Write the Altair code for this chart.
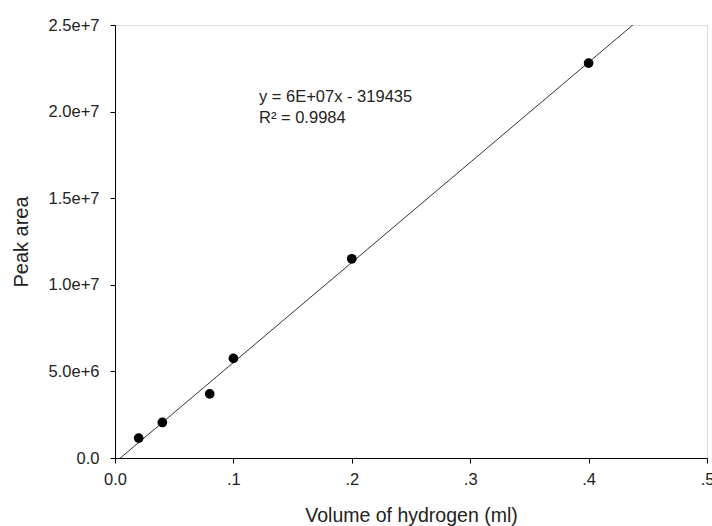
import altair as alt
import pandas as pd

# Calibration standards: injected hydrogen volume vs. integrated peak area
volume_ml = [0.02, 0.04, 0.08, 0.10, 0.20, 0.40]
peak_area = [1.15e6, 2.05e6, 3.7e6, 5.75e6, 11.5e6, 22.8e6]

x_ticks = [0.0, 0.1, 0.2, 0.3, 0.4, 0.5]
y_ticks = [0, 5e6, 1e7, 1.5e7, 2e7, 2.5e7]

fit_lines = ["y = 6E+07x - 319435", "R² = 0.9984"]
fit_label_x = [0.1216, 0.1216]
fit_label_y = [20.84e6, 19.63e6]

df = pd.DataFrame({"volume": volume_ml, "area": peak_area})
labels = pd.DataFrame({"text": fit_lines, "x": fit_label_x, "y": fit_label_y})

FONT = "Liberation Sans"
INK = "#222"

x_scale = alt.Scale(domain=[0, 0.5], nice=False, zero=False)
y_scale = alt.Scale(domain=[0, 2.5e7], nice=False)

x_axis = alt.Axis(
    values=x_ticks,
    labelExpr="datum.value == 0 ? '0.0' : replace(format(datum.value, '.1f'), '0.', '.')",
    title="Volume of hydrogen (ml)",
    grid=False, domainColor="black", tickColor="black", tickSize=5,
    labelFlush=False, labelOverlap=False,
    labelPadding=8, labelFontSize=16.5, labelColor=INK, labelFont=FONT,
    titleFont=FONT, titleFontSize=19.5, titleFontWeight="normal", titleColor=INK,
    titlePadding=19,
)
y_axis = alt.Axis(
    values=y_ticks,
    labelExpr="datum.value == 0 ? '0.0' : format(datum.value, '.1e')",
    title="Peak area",
    grid=False, domainColor="black", tickColor="black", tickSize=5,
    labelFlush=False, labelOverlap=False,
    labelPadding=11, labelFontSize=16.5, labelColor=INK, labelFont=FONT,
    titleFont=FONT, titleFontSize=20, titleFontWeight="normal", titleColor=INK,
    titlePadding=17,
)

base = alt.Chart(df)

points = base.mark_circle(size=95, color="black", opacity=1).encode(
    x=alt.X("volume:Q", scale=x_scale, axis=x_axis),
    y=alt.Y("area:Q", scale=y_scale, axis=y_axis),
)

fit = base.transform_regression(
    "volume", "area", method="linear", extent=[0, 0.5]
).mark_line(color="#333", strokeWidth=1, clip=True).encode(
    x=alt.X("volume:Q", scale=x_scale),
    y=alt.Y("area:Q", scale=y_scale),
)

eq = alt.Chart(labels).mark_text(
    align="left", baseline="middle", font=FONT, fontSize=16.5, color=INK
).encode(
    x=alt.X("x:Q", scale=x_scale),
    y=alt.Y("y:Q", scale=y_scale),
    text="text:N",
)

chart = (fit + points + eq).properties(
    width=592, height=433,
    padding={"left": 115, "top": 25, "right": 5, "bottom": 68},
    autosize=alt.AutoSizeParams(type="none"),
).configure_view(stroke="black", strokeWidth=1).configure(background="white")

chart.save("out.html", embed_options={"renderer": "svg", "actions": False})
